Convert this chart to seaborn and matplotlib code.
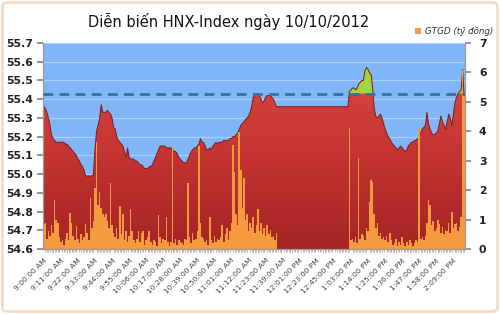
import numpy as np
import pandas as pd
import matplotlib
matplotlib.use("Agg")
import matplotlib.pyplot as plt
import seaborn as sns
from matplotlib.patches import FancyBboxPatch, Patch
from matplotlib.lines import Line2D
from matplotlib.colors import LinearSegmentedColormap

# ---------------- data ----------------
title = "Diễn biến HNX-Index ngày 10/10/2012"
legend_label = "GTGD (tỷ đồng)"
tick_labels = ["9:00:00 AM", "9:11:00 AM", "9:22:00 AM", "9:33:00 AM", "9:44:00 AM",
               "9:55:00 AM", "10:06:00 AM", "10:17:00 AM", "10:28:00 AM", "10:39:00 AM",
               "10:50:00 AM", "11:01:00 AM", "11:12:00 AM", "11:23:00 AM", "11:39:00 AM",
               "12:01:00 PM", "12:23:00 PM", "12:45:00 PM", "1:03:00 PM", "1:14:00 PM",
               "1:25:00 PM", "1:36:00 PM", "1:47:00 PM", "1:58:00 PM", "2:09:00 PM"]
tick_every = 11
reference_level = 55.43
left_ticks = [54.6, 54.7, 54.8, 54.9, 55.0, 55.1, 55.2, 55.3, 55.4, 55.5, 55.6, 55.7]
right_ticks = [0, 1, 2, 3, 4, 5, 6, 7]

index_values = [
    55.36, 55.35, 55.33, 55.30, 55.26, 55.21, 55.19, 55.18, 55.17, 55.17,
    55.17, 55.17, 55.17, 55.17, 55.16, 55.16, 55.15, 55.14, 55.13, 55.12,
    55.11, 55.10, 55.08, 55.07, 55.05, 55.04, 55.02, 54.99, 54.99, 54.99,
    54.99, 54.99, 55.00, 55.13, 55.23, 55.26, 55.30, 55.37, 55.33, 55.33,
    55.33, 55.34, 55.33, 55.32, 55.30, 55.25, 55.24, 55.20, 55.18, 55.17,
    55.16, 55.15, 55.12, 55.09, 55.14, 55.09, 55.08, 55.08, 55.08, 55.07,
    55.07, 55.06, 55.05, 55.05, 55.04, 55.03, 55.03, 55.03, 55.04, 55.04,
    55.05, 55.07, 55.09, 55.11, 55.13, 55.15, 55.15, 55.15, 55.15, 55.14,
    55.14, 55.14, 55.14, 55.13, 55.12, 55.12, 55.11, 55.09, 55.08, 55.07,
    55.06, 55.06, 55.06, 55.08, 55.10, 55.12, 55.13, 55.14, 55.14, 55.15,
    55.16, 55.19, 55.17, 55.17, 55.15, 55.13, 55.13, 55.14, 55.13, 55.15,
    55.16, 55.17, 55.16, 55.17, 55.17, 55.17, 55.18, 55.18, 55.18, 55.18,
    55.19, 55.19, 55.20, 55.20, 55.21, 55.22, 55.24, 55.26, 55.27, 55.28,
    55.29, 55.30, 55.31, 55.33, 55.36, 55.41, 55.42, 55.43, 55.43, 55.42,
    55.40, 55.38, 55.39, 55.41, 55.42, 55.42, 55.42, 55.41, 55.40, 55.38,
    55.36, 55.36, 55.36, 55.36, 55.36, 55.36, 55.36, 55.36, 55.36, 55.36,
    55.36, 55.36, 55.36, 55.36, 55.36, 55.36, 55.36, 55.36, 55.36, 55.36,
    55.36, 55.36, 55.36, 55.36, 55.36, 55.36, 55.36, 55.36, 55.36, 55.36,
    55.36, 55.36, 55.36, 55.36, 55.36, 55.36, 55.36, 55.36, 55.36, 55.36,
    55.36, 55.36, 55.36, 55.36, 55.36, 55.36, 55.36,
    55.44, 55.45, 55.46,
    55.46, 55.45, 55.46, 55.48, 55.49, 55.50, 55.50, 55.55, 55.57, 55.56,
    55.54, 55.53, 55.46, 55.35, 55.31, 55.30, 55.31, 55.32, 55.30, 55.27,
    55.24, 55.22, 55.20, 55.19, 55.17, 55.16, 55.15, 55.14, 55.13, 55.14,
    55.15, 55.14, 55.13, 55.12, 55.13, 55.15, 55.16, 55.17, 55.17, 55.18,
    55.18, 55.19, 55.20, 55.22, 55.24, 55.25, 55.26, 55.33, 55.27, 55.24,
    55.22, 55.21, 55.21, 55.22, 55.23, 55.27, 55.31, 55.28, 55.26, 55.24,
    55.28, 55.32, 55.30, 55.26, 55.32, 55.38, 55.41, 55.43, 55.44, 55.45,
    55.56, 55.40,
]

volume_values = [
    0.85, 0.90, 0.35, 0.60, 0.45, 0.80, 0.55, 1.65, 1.00, 0.88,
    0.40, 0.25, 0.30, 0.15, 0.35, 0.55, 0.30, 1.22, 0.90, 0.45,
    0.30, 0.78, 0.35, 0.20, 0.50, 0.30, 0.40, 0.85, 0.55, 0.30,
    1.73, 0.70, 0.95, 2.07, 3.64, 1.50, 1.94, 1.40, 1.20, 1.10,
    1.20, 0.95, 0.70, 2.24, 0.80, 0.55, 0.40, 0.70, 0.35, 1.45,
    0.50, 1.20, 0.30, 0.60, 0.25, 0.45, 1.36, 0.60, 0.30, 0.20,
    0.35, 0.60, 0.25, 0.55, 0.60, 0.15, 0.30, 0.40, 0.60, 0.25,
    0.15, 0.30, 0.25, 0.10, 1.16, 0.40, 0.20, 0.35, 0.30, 1.10,
    0.25, 0.10, 0.25, 3.54, 0.20, 0.35, 0.15, 0.30, 0.25, 0.20,
    0.15, 0.35, 0.30, 2.24, 0.40, 0.20, 0.55, 0.30, 0.35, 0.60,
    3.50, 0.90, 0.40, 0.35, 0.25, 0.30, 0.15, 1.10, 0.30, 0.20,
    0.45, 0.25, 0.35, 0.30, 0.40, 0.80, 0.25, 0.50, 0.70, 0.30,
    0.60, 0.90, 3.54, 2.60, 1.20, 0.80, 3.98, 2.70, 1.40, 2.41,
    1.00, 1.20, 0.60, 0.90, 0.70, 1.10, 0.55, 0.80, 1.36, 0.60,
    0.90, 0.50, 0.70, 0.45, 0.80, 0.50, 0.65, 0.40, 0.45, 0.30, 0.55,
    0.0, 0.0, 0.0, 0.0, 0.0, 0.0, 0.0, 0.0, 0.0, 0.0,
    0.0, 0.0, 0.0, 0.0, 0.0, 0.0, 0.0, 0.0, 0.0, 0.0,
    0.0, 0.0, 0.0, 0.0, 0.0, 0.0, 0.0, 0.0, 0.0, 0.0,
    0.0, 0.0, 0.0, 0.0, 0.0, 0.0, 0.0, 0.0, 0.0, 0.0,
    0.0, 0.0, 0.0, 0.0, 0.0, 0.0,
    4.10, 0.30, 0.35,
    0.25, 0.40, 0.20, 3.10, 0.35, 0.50, 0.45, 0.30, 0.70, 0.60,
    1.60, 2.35, 2.28, 1.20, 0.70, 0.90, 0.45, 0.55, 0.35, 0.40,
    0.30, 0.45, 0.25, 0.55, 0.30, 0.15, 0.20, 0.35, 0.10, 0.25,
    0.15, 0.40, 0.20, 0.10, 0.25, 0.15, 0.30, 0.20, 0.10, 0.20,
    0.30, 0.25, 4.10, 0.35, 0.40, 0.30, 0.45, 0.90, 1.67, 1.50,
    0.80, 0.95, 0.60, 0.70, 1.00, 0.85, 0.55, 0.75, 0.50, 0.65,
    0.60, 0.90, 0.55, 1.25, 0.70, 0.85, 0.90, 0.60, 0.75, 1.10,
    6.10, 5.20,
]

# ---------------- styling ----------------
sns.set_theme(style="white")
plt.rcParams['font.family'] = ['DejaVu Sans']

N = len(index_values)
pos = np.arange(N)
idx = np.array(index_values)
vol = np.array(volume_values)
df = pd.DataFrame({"pos": pos, "index": idx, "volume": vol})

fig = plt.figure(figsize=(5, 3.14), dpi=100)
fig.patch.set_facecolor("white")
frame = FancyBboxPatch((0.005, 0.008), 0.99, 0.984,
                       boxstyle="round,pad=0,rounding_size=0.012",
                       transform=fig.transFigure, facecolor="none",
                       edgecolor="#f5dcc2", linewidth=2, zorder=-5)
fig.patches.append(frame)

ax = fig.add_axes([0.086, 0.207, 0.844, 0.656])
ax2 = ax.twinx()

ax.set_facecolor("#80b5f7")
ax.set_axisbelow(True)
ax.yaxis.grid(True, color="#a9cffc", linewidth=0.9)
ax.xaxis.grid(False)

# red area with vertical gradient
poly = ax.fill_between(pos, left_ticks[0], idx, color="none", linewidth=0)
cmap = LinearSegmentedColormap.from_list("reds", ["#a42424", "#c43431", "#da4a42"])
grad = np.linspace(0, 1, 256).reshape(-1, 1)
im = ax.imshow(grad, extent=[-0.5, N - 0.5, left_ticks[0], 55.6], origin="lower",
               aspect="auto", cmap=cmap, zorder=2, interpolation="bilinear")
im.set_clip_path(poly.get_paths()[0], transform=ax.transData)

# green area above reference level
ax.fill_between(pos, reference_level, idx, where=idx > reference_level,
                interpolate=True, color="#a0d63f", linewidth=0, zorder=2.5)

# top edge
sns.lineplot(data=df, x="pos", y="index", ax=ax, color="#7d1c1c", linewidth=0.7, zorder=3)

# volume bars on secondary axis
sns.barplot(data=df, x="pos", y="volume", ax=ax2, color="#f49b3f", saturation=1,
            width=1.0, native_scale=True, linewidth=0, errorbar=None)

# reference dashed line (in left-axis data units) drawn above the bars
ref_line = Line2D([-0.5, N - 0.5], [reference_level, reference_level],
                  transform=ax.transData, color="#3b6ea8", linewidth=2,
                  dashes=(3.5, 2.3), zorder=5)
ax2.add_line(ref_line)

ax.set_xlim(-0.5, N - 0.5)
ax.set_ylim(left_ticks[0], left_ticks[-1])
ax2.set_ylim(right_ticks[0], right_ticks[-1])

ax.set_yticks(left_ticks)
ax.set_yticklabels([f"{v:.1f}" for v in left_ticks], fontsize=7.8, fontweight="bold", color="#222222")
ax2.set_yticks(right_ticks)
ax2.set_yticklabels([str(v) for v in right_ticks], fontsize=7.8, fontweight="bold", color="#222222")

major_pos = [i * tick_every for i in range(len(tick_labels))]
ax.set_xticks(major_pos)
ax.set_xticklabels(tick_labels, rotation=45, ha="right", rotation_mode="anchor",
                   fontsize=5.4, color="#444444")
ax.set_xticks(pos, minor=True)
ax.tick_params(axis="x", which="major", length=3, color="#888888", pad=3, direction="out")
ax.tick_params(axis="x", which="minor", length=2, color="#999999", width=0.5, direction="out", bottom=True)
ax.tick_params(axis="y", length=4, color="#888888", pad=3, direction="out", left=True)
ax2.tick_params(axis="y", length=4, color="#888888", pad=6, direction="out", right=True)
ax.set_xlabel("")
ax.set_ylabel("")
ax2.set_xlabel("")
ax2.set_ylabel("")

for a in (ax, ax2):
    for s in a.spines.values():
        s.set_color("#999999")
        s.set_linewidth(0.8)
    a.spines["top"].set_visible(False)

fig.text(0.457, 0.933, title, ha="center", va="center", fontsize=10.5, color="#111111")
fig.legend(handles=[Patch(facecolor="#f49b3f", edgecolor="none")], labels=[legend_label],
           loc="center", bbox_to_anchor=(0.908, 0.901), frameon=False,
           prop={"size": 6.3, "style": "italic"}, handlelength=0.7, handleheight=0.7,
           handletextpad=0.4, labelcolor="#333333")

fig.savefig("out.png", dpi=100, facecolor="white")
